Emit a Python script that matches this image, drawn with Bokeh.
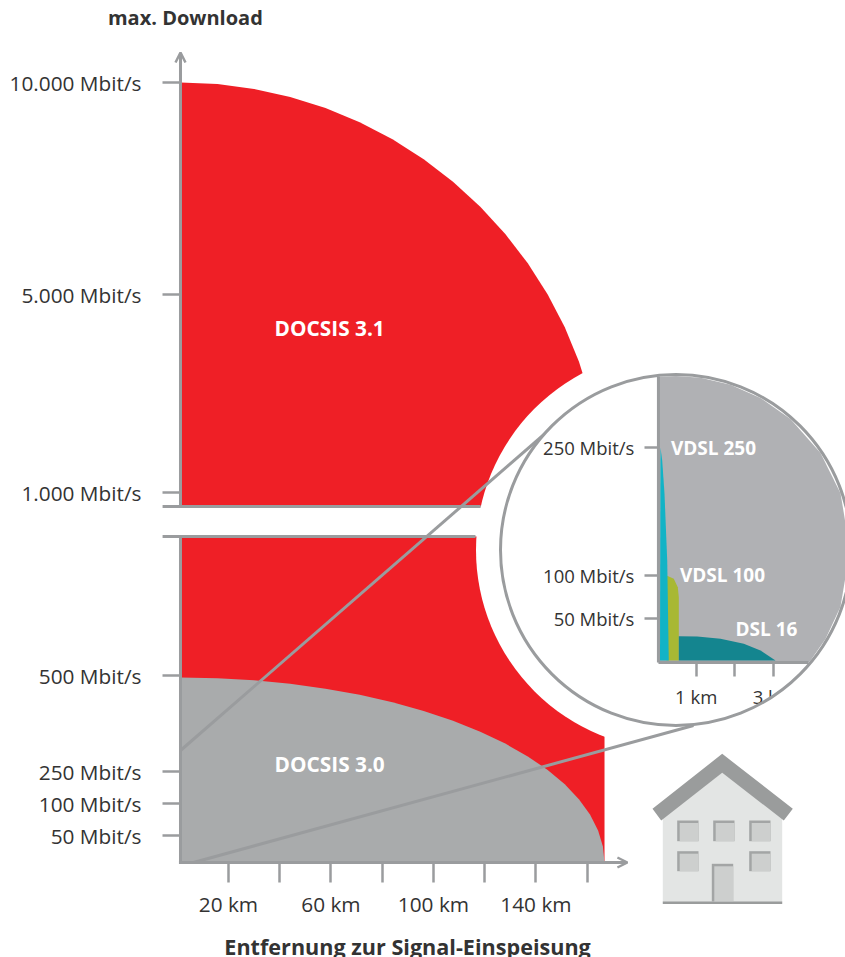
from bokeh.plotting import figure
from bokeh.models import Range1d, LinearAxis, FixedTicker, Arrow, OpenHead
from bokeh.core.properties import value
from bokeh.embed import file_html
from bokeh.resources import INLINE

# ---- main chart: distance in km, height on the broken (non-linear) speed scale
km_ticks = [20, 40, 60, 80, 100, 120, 140, 160]
km_labels = ["20 km", "", "60 km", "", "100 km", "", "140 km", ""]
speed_labels = ["50 Mbit/s", "100 Mbit/s", "250 Mbit/s", "500 Mbit/s", "1.000 Mbit/s", "5.000 Mbit/s", "10.000 Mbit/s"]
speed_pos = [27, 59, 91, 187, 370, 568, 780]
axis_km = 1.29
break_low = 326
break_high = 356

curve_km = [1.29, 15.73, 30.01, 44.1, 57.88, 71.22, 84.02, 96.2, 107.63, 118.28, 128.04, 136.82, 144.59, 151.26,
            156.76, 161.1, 164.25, 166.13, 166.76]
docsis31_h = [780, 778.4, 773.6, 765.5, 754.4, 740.3, 723.2, 703.3, 680.8, 655.8, 628.5, 599.2, 568, 535.2,
              501, 465.7, 429.6, 393, 356]
docsis30_h = [185, 184.3, 182.2, 178.7, 173.8, 167.7, 160.2, 151.6, 141.7, 130.8, 118.9, 106.1, 92.5, 78.2,
              63.3, 47.9, 32.1, 16.1, 0]

# ---- inset: distance in km (own scale), same height scale
inset_ticks = [1, 2, 3]
inset_labels = ["1 km", "", "3 km"]
inset_speed_labels = ["50 Mbit/s", "100 Mbit/s", "250 Mbit/s"]
inset_speed_pos = [244, 287, 415]
inset_base = 200
inset_axis_km = 187.8

inset_bg_km = [0.028, 0.479, 1.111, 1.884, 2.657, 3.43, 4.204, 4.719, 4.964, 4.719, 4.332, 3.946, 3.894, 0.028]
inset_bg_h = [485.6, 486.5, 484.8, 477.7, 464.6, 443.5, 409.4, 369.2, 312.5, 255.8, 223.5, 202.1, 200, 200]
vdsl250_km = [0.067, 0.08, 0.124, 0.183, 0.253, 0.294]
vdsl250_h = [202, 415, 402, 369, 302, 202]
vdsl100_km = [0.235, 0.235, 0.423, 0.526, 0.552, 0.552]
vdsl100_h = [202, 287, 283.7, 275.3, 265.3, 202]
dsl16_km = [0.552, 0.552, 1.026, 1.626, 2.227, 2.657, 3.044]
dsl16_h = [202, 226.3, 226, 223.7, 218.7, 212, 202]

RED = "#EF1F26"
GREY_30 = "#A9ABAC"
INSET_BG = "#B0B1B4"
AXIS = "#9A9C9E"
INK = "#333333"
FONT = "Open Sans"

p = figure(width=845, height=957, output_backend="svg", toolbar_location=None,
           x_range=Range1d(-68.95, 260.8), y_range=Range1d(-95, 862),
           x_axis_type=None, y_axis_type=None, min_border=0,
           outline_line_color=None, background_fill_color="white")
p.extra_x_ranges = {"inset": Range1d(-16.93, 4.848), "px": Range1d(0, 845)}
p.extra_y_ranges = {"px": Range1d(957, 0)}

# areas
p.patch(curve_km + [166.76, 1.29], docsis31_h + [0, 0], fill_color=RED, line_color=None)
p.patch(curve_km + [1.29], docsis30_h + [0], fill_color=GREY_30, line_color=None)

# axis break
p.quad(left=[0], right=[135], bottom=[break_low], top=[break_high], fill_color="white", line_color=None)

# white ring around the magnifier
ring_x, ring_y = [675.5], [549.5]
p.scatter(ring_x, ring_y, size=400, marker="circle", fill_color="white", line_color=None,
          x_range_name="px", y_range_name="px")

# connecting lines
conn_up_x, conn_up_y = [180, 547], [750, 431]
conn_lo_x, conn_lo_y = [193, 693], [862, 725]
p.line(conn_up_x, conn_up_y, line_color=AXIS, line_width=3, x_range_name="px", y_range_name="px")
p.line(conn_lo_x, conn_lo_y, line_color=AXIS, line_width=3, x_range_name="px", y_range_name="px")

# magnifier
p.scatter(ring_x, ring_y, size=351, marker="circle", fill_color="white", line_color=None,
          x_range_name="px", y_range_name="px")
p.patch(inset_bg_km, inset_bg_h, fill_color=INSET_BG, line_color=None, x_range_name="inset")
p.patch(vdsl100_km, vdsl100_h, fill_color="#A8B834", line_color=None, x_range_name="inset")
p.patch(vdsl250_km, vdsl250_h, fill_color="#12B3C6", line_color=None, x_range_name="inset")
p.patch(dsl16_km, dsl16_h, fill_color="#14858F", line_color=None, x_range_name="inset")

# axis lines
p.line([axis_km, axis_km], [0, break_low], line_color=AXIS, line_width=3)
p.line([-5.7, 118.4], [break_high, break_high], line_color=AXIS, line_width=3)
p.line([-5.7, 116.4], [break_low, break_low], line_color=AXIS, line_width=3)
p.line([inset_axis_km, inset_axis_km], [inset_base, 486], line_color=AXIS, line_width=3)
p.line([0.028, 3.894], [inset_base, inset_base], line_color=AXIS, line_width=3, x_range_name="inset")
head = dict(size=10, line_color=AXIS, line_width=2.5)
p.add_layout(Arrow(end=OpenHead(**head), x_start=axis_km, y_start=break_high, x_end=axis_km, y_end=810,
                   line_color=AXIS, line_width=3))
p.add_layout(Arrow(end=OpenHead(**head), x_start=axis_km - 0.6, y_start=0, x_end=175.7, y_end=0,
                   line_color=AXIS, line_width=3))


def style(ax, length, standoff, size):
    ax.axis_line_color = None
    ax.major_tick_in = 0
    ax.major_tick_out = length
    ax.major_tick_line_color = AXIS
    ax.major_tick_line_width = 2.5
    ax.minor_tick_line_color = None
    ax.major_label_standoff = standoff
    ax.major_label_text_font = FONT
    ax.major_label_text_font_size = size
    ax.major_label_text_color = INK


ax_y = LinearAxis(fixed_location=axis_km, ticker=FixedTicker(ticks=speed_pos),
                  major_label_overrides=dict(zip(speed_pos, speed_labels)))
style(ax_y, 18, 21, "20.8px")
p.add_layout(ax_y, "left")

ax_x = LinearAxis(fixed_location=0, ticker=FixedTicker(ticks=km_ticks),
                  major_label_overrides=dict(zip(km_ticks, km_labels)))
style(ax_x, 20, 7, "20.8px")
p.add_layout(ax_x, "below")

ax_iy = LinearAxis(fixed_location=inset_axis_km, ticker=FixedTicker(ticks=inset_speed_pos),
                   major_label_overrides=dict(zip(inset_speed_pos, inset_speed_labels)))
style(ax_iy, 14, 10, "18.5px")
p.add_layout(ax_iy, "left")

ax_ix = LinearAxis(x_range_name="inset", fixed_location=inset_base, ticker=FixedTicker(ticks=inset_ticks),
                   major_label_overrides=dict(zip(inset_ticks, inset_labels)))
style(ax_ix, 14, 7, "18.5px")
p.add_layout(ax_ix, "below")

# mask that cuts the inset tick label at the magnifier edge, then the magnifier rim
mask_x = [745, 760, 775, 790, 800, 806, 790, 745]
mask_y = [710.7, 703.3, 694, 682.5, 673, 690, 713, 719]
p.patch(mask_x, mask_y, fill_color="white", line_color=None, x_range_name="px", y_range_name="px", level="overlay")
p.scatter(ring_x, ring_y, size=351, marker="circle", fill_color=None, line_color=AXIS, line_width=3,
          x_range_name="px", y_range_name="px", level="overlay")


# texts
def bold(size):
    return dict(text_font=value(FONT), text_font_style="bold", text_font_size=size,
                text_align="center", text_baseline="middle")


p.text([59.5], [535], text=["DOCSIS 3.1"], text_color="white", **bold("20.8px"))
p.text([59.5], [99], text=["DOCSIS 3.0"], text_color="white", **bold("20.8px"))
p.text([1.446], [415], text=["VDSL 250"], text_color="white", x_range_name="inset", **bold("19px"))
p.text([1.678], [288], text=["VDSL 100"], text_color="white", x_range_name="inset", **bold("19px"))
p.text([2.812], [234], text=["DSL 16"], text_color="white", x_range_name="inset", **bold("19px"))
p.text([3.2], [845], text=["max. Download"], text_color=INK, **bold("20px"))
p.text([89.9], [-84], text=["Entfernung zur Signal-Einspeisung"], text_color=INK, **bold("21.6px"))

# house pictogram
body_x = [662.3, 721.7, 781.7, 781.7, 662.3]
body_y = [818, 772, 818, 903, 903]
roof_x = [721.7, 792.3, 783.3, 721.7, 660.7, 652]
roof_y = [753.3, 808.3, 820, 772.3, 820, 808.3]
win_l = [676.7, 712.7, 748.7, 676.7, 748.7, 711.3]
win_r = [698, 734, 770, 698, 770, 732.7]
win_t = [820, 820, 820, 850.7, 850.7, 863.3]
win_b = [840.7, 840.7, 840.7, 870.7, 870.7, 901]
px = dict(x_range_name="px", y_range_name="px", line_color=None)
p.patch(body_x, body_y, fill_color="#E3E5E4", **px)
p.quad(left=[662.3], right=[781.7], top=[901], bottom=[903.5], fill_color="#9A9C9C", **px)
p.quad(left=win_l, right=win_r, top=win_t, bottom=win_b, fill_color="#A3A5A5", **px)
p.quad(left=[v + 2.5 for v in win_l], right=win_r, top=[v + 2.5 for v in win_t], bottom=win_b,
       fill_color="#CDCFCE", **px)
p.patch(roof_x, roof_y, fill_color="#9A9C9C", **px)

open("out.html", "w").write(file_html(p, INLINE))
